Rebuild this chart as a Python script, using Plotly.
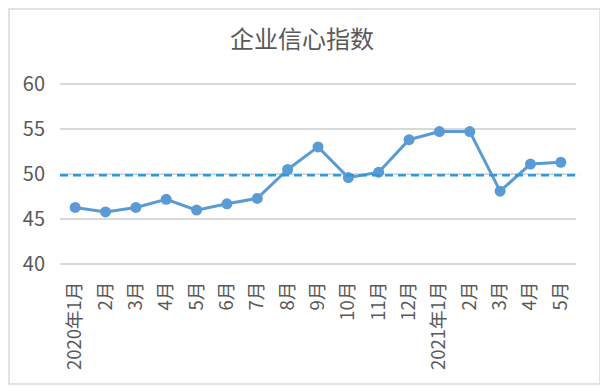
import plotly.graph_objects as go

months = ["2020年1月", "2月", "3月", "4月", "5月", "6月", "7月", "8月", "9月",
          "10月", "11月", "12月", "2021年1月", "2月", "3月", "4月", "5月"]
values = [46.3, 45.8, 46.3, 47.2, 46.0, 46.7, 47.3, 50.5, 53.0,
          49.6, 50.2, 53.8, 54.7, 54.7, 48.1, 51.1, 51.3]
threshold = 49.85
y_ticks = [40, 45, 50, 55, 60]
title_text = "企业信心指数"

x_idx = list(range(len(months)))

FONT = "Noto Sans CJK SC, Noto Sans, sans-serif"
GRAY = "#595959"

# page has an 8px body margin; figure placed at (8, 8)
W, H = 600, 384
L, T, R, B = 52, 73, 32, 125
PW, PH = W - L - R, H - T - B

fig = go.Figure()
fig.add_trace(go.Scatter(
    x=x_idx, y=values, mode="lines+markers",
    line=dict(color="#5b9bd5", width=3),
    marker=dict(color="#5b9bd5", size=11),
    showlegend=False, hoverinfo="x+y",
))

fig.update_layout(
    width=W, height=H,
    margin=dict(l=L, r=R, t=T, b=B, autoexpand=False),
    paper_bgcolor="white", plot_bgcolor="white",
    font=dict(family=FONT, color=GRAY),
    title=dict(text=title_text, x=294 / W, xanchor="center", xref="container",
               y=1 - 32 / H, yanchor="middle", yref="container",
               font=dict(size=24, color=GRAY, family=FONT)),
    xaxis=dict(
        range=[-0.5, len(months) - 0.5],
        tickmode="array", tickvals=x_idx, ticktext=months,
        tickangle=-90, showgrid=False, zeroline=False, showline=False,
        tickfont=dict(size=18.5, color=GRAY), ticklabelstandoff=10,
        fixedrange=True,
    ),
    yaxis=dict(
        range=[39.7, 60.3], tickmode="array", tickvals=y_ticks,
        showgrid=True, gridcolor="#d9d9d9", gridwidth=1.5,
        zeroline=False, showline=False,
        tickfont=dict(size=20, color=GRAY), ticklabelstandoff=14,
        fixedrange=True,
    ),
    shapes=[
        dict(type="line", xref="paper", yref="y",
             x0=0, x1=1.008, y0=threshold, y1=threshold,
             line=dict(color="#2e9ad8", width=2.5, dash="8px,5px"), layer="above"),
        dict(type="rect", xref="paper", yref="paper",
             x0=(1 - L) / PW, x1=(592 - L) / PW,
             y0=-(376 - (H - B)) / PH, y1=1 + (T - 1) / PH,
             line=dict(color="#d9d9d9", width=1.5), layer="below"),
    ],
)

fig.write_html("out.html")
